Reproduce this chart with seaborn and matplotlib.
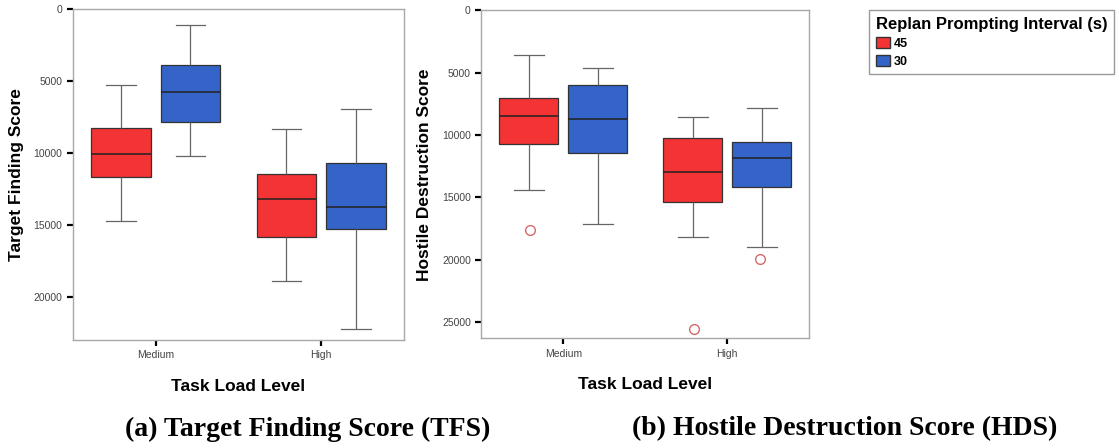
import seaborn as sns
import matplotlib.pyplot as plt
import pandas as pd
from matplotlib.patches import Patch

# five-number summaries: whisker-low, Q1, median, Q3, whisker-high
levels = ['Medium', 'High']
intervals = ['45', '30']

tfs_medium_45 = [5300, 8240, 10070, 11640, 14720]
tfs_medium_30 = [1090, 3910, 5760, 7850, 10190]
tfs_high_45 = [8310, 11500, 13170, 15850, 18890]
tfs_high_30 = [6970, 10690, 13770, 15300, 22200]

hds_medium_45 = [3610, 7060, 8500, 10720, 14440]
hds_medium_30 = [4630, 6020, 8720, 11440, 17140]
hds_high_45 = [8580, 10240, 13000, 15400, 18180]
hds_high_30 = [7860, 10590, 11870, 14150, 18960]

# outliers (level, interval, value)
hds_outliers = [('Medium', '45', 17600), ('High', '45', 25530), ('High', '30', 19920)]

red = '#f43434'
blue = '#3464c8'
palette = {'45': red, '30': blue}

plt.rcParams['font.family'] = ['Liberation Sans', 'DejaVu Sans']


def to_frame(groups):
    rows = []
    for (lvl, itv), vals in groups.items():
        for v in vals:
            rows.append({'level': lvl, 'interval': itv, 'score': v})
    return pd.DataFrame(rows)


tfs = to_frame({('Medium', '45'): tfs_medium_45, ('Medium', '30'): tfs_medium_30,
                ('High', '45'): tfs_high_45, ('High', '30'): tfs_high_30})
hds = to_frame({('Medium', '45'): hds_medium_45, ('Medium', '30'): hds_medium_30,
                ('High', '45'): hds_high_45, ('High', '30'): hds_high_30})
hds_out = pd.DataFrame(hds_outliers, columns=['level', 'interval', 'score'])

fig = plt.figure(figsize=(11.19, 4.48), dpi=100)
ax1 = fig.add_axes((0.0652, 0.241, 0.2958, 0.739))
ax2 = fig.add_axes((0.4301, 0.2449, 0.2931, 0.732))

box_kw = dict(x='level', y='score', hue='interval', order=levels, hue_order=intervals,
              palette=palette, width=0.84, gap=0.14, whis=(0, 100), saturation=1,
              linecolor='#333333', linewidth=0.9, legend=False,
              whiskerprops=dict(color='#666666'), capprops=dict(color='#666666'),
              medianprops=dict(color='#222222', linewidth=1.1))

sns.boxplot(data=tfs, ax=ax1, **box_kw)
sns.boxplot(data=hds, ax=ax2, **box_kw)
sns.stripplot(data=hds_out, x='level', y='score', hue='interval', order=levels,
              hue_order=intervals, dodge=True, jitter=False, ax=ax2, legend=False,
              palette={'45': 'none', '30': 'none'}, marker='o', size=7,
              edgecolor='#d46a6a', linewidth=1)

for ax, top, ylabel in [(ax1, 23000, 'Target Finding Score'),
                        (ax2, 26300, 'Hostile Destruction Score')]:
    ax.set_ylim(top, 0)
    ax.set_xlim(-0.5, 1.5)
    ax.set_yticks(range(0, top, 5000))
    ax.set_ylabel(ylabel, fontsize=12.5, fontweight='bold', labelpad=7)
    ax.set_xlabel('Task Load Level', fontsize=12.5, fontweight='bold', labelpad=13)
    ax.tick_params(axis='both', labelsize=7.5, labelcolor='#444444', color='black',
                   length=4, width=1.6)
    for s in ax.spines.values():
        s.set_color('#a8a8a8')
        s.set_linewidth(1)

handles = [Patch(facecolor=red, edgecolor='#333333', label='45'),
           Patch(facecolor=blue, edgecolor='#333333', label='30')]
leg = fig.legend(handles=handles, title='Replan Prompting Interval (s)',
                 loc='upper left', bbox_to_anchor=(869 / 1119, 1 - 10 / 448),
                 alignment='left', fontsize=9, title_fontsize=12,
                 handlelength=1.1, handleheight=1.0, handletextpad=0.3,
                 labelspacing=0.4, borderpad=0.55, borderaxespad=0,
                 fancybox=False, framealpha=1, edgecolor='#999999')
leg.get_title().set_fontweight('bold')
for t in leg.get_texts():
    t.set_fontweight('bold')

cap_kw = dict(fontsize=20, fontweight='bold', family=['Liberation Serif', 'DejaVu Serif'],
              ha='center', va='center')
fig.text(308 / 1119, 1 - 429 / 448, '(a) Target Finding Score (TFS)', **cap_kw)
fig.text(845 / 1119, 1 - 429 / 448, '(b) Hostile Destruction Score (HDS)', **cap_kw)

fig.savefig('out.png', dpi=100, facecolor='white')
